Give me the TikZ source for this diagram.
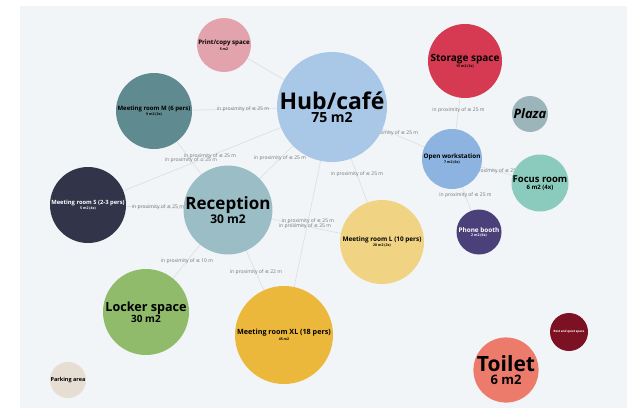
\documentclass[tikz,border=0pt]{standalone}
\usepackage{fontspec}
\setmainfont{Open Sans}
\newfontfamily\symfont{DejaVu Sans}

\definecolor{paper}{HTML}{F1F5F7}
\definecolor{linkgray}{HTML}{DCE1E3}
\definecolor{printpink}{HTML}{E3A3AD}
\definecolor{mtgMteal}{HTML}{5F8A8F}
\definecolor{hubblue}{HTML}{A9C7E6}
\definecolor{storagered}{HTML}{D53A52}
\definecolor{plazagray}{HTML}{9CB5BB}
\definecolor{openwsblue}{HTML}{8DB3E0}
\definecolor{focusgreen}{HTML}{8ACBBD}
\definecolor{recepteal}{HTML}{9ABDC6}
\definecolor{mtgSnavy}{HTML}{32344A}
\definecolor{lockergreen}{HTML}{8FBB6B}
\definecolor{mtgXLyellow}{HTML}{ECB83C}
\definecolor{parkingbeige}{HTML}{E6DDD3}
\definecolor{mtgLyellow}{HTML}{F0D484}
\definecolor{phonepurple}{HTML}{4B4079}
\definecolor{restred}{HTML}{7B1122}
\definecolor{toiletred}{HTML}{ED7B6B}

\newcommand{\fs}[1]{\fontsize{#1}{#1}\selectfont}
\newcommand{\sub}[1]{\\[0.5pt]\fontsize{3.5}{3.5}\selectfont #1}

\pgfdeclarelayer{paperlayer}
\pgfdeclarelayer{linklayer}
\pgfsetlayers{paperlayer,linklayer,main}

\tikzset{
  room/.style={circle, minimum size=#1, inner sep=0pt, align=center,
               font=\bfseries\fontsize{1}{1}\selectfont},
  link/.style={draw=linkgray, line width=0.7pt},
  lbl/.style={font=\fontsize{5}{5}\selectfont, text=black!55, inner sep=0pt}
}

\begin{document}
\begin{tikzpicture}[x=1pt, y=-1pt]
    \useasboundingbox (0,0) rectangle (627,408);
    % draw the light background
    \begin{pgfonlayer}{paperlayer}
    \fill[paper] (20,6) rectangle (627,408);
    \end{pgfonlayer}
    % draw nodes for the rooms
    \node[room=54pt, fill=printpink] (print) at (224,45) {\fs{6.2}Print/copy space\sub{5 m2}};
    \node[room=76pt, fill=mtgMteal] (mtgM) at (154,111) {\fs{6}Meeting room M (6 pers)\sub{9 m2 (3x)}};
    \node[room=110pt, fill=hubblue] (hub) at (332,107) {\fs{23}Hub/café\\[2pt]\fs{14}75 m2};
    \node[room=74pt, fill=storagered] (storage) at (465,61) {\fs{10}Storage space\sub{15 m2 (3x)}};
    \node[room=36pt, fill=plazagray] (plaza) at (530,114) {\fs{13}\itshape Plaza};
    \node[room=60pt, fill=openwsblue] (openws) at (452,159) {\fs{6.3}Open workstation\sub{7 m2 (6x)}};
    \node[room=57pt, fill=focusgreen] (focus) at (540,183) {\fs{9.5}Focus room\\[2pt]\fs{6}6 m2 (4x)};
    \node[room=88pt, fill=recepteal] (recep) at (228,210) {\fs{17}Reception\\\fs{12}30 m2};
    \node[room=76pt, fill=mtgSnavy, text=white] (mtgS) at (88,205) {\fs{5.8}Meeting room S (2-3 pers)\sub{5 m2 (4x)}};
    \node[room=86pt, fill=lockergreen] (locker) at (146,312) {\fs{12.6}Locker space\\\fs{10}30 m2};
    \node[room=98pt, fill=mtgXLyellow] (mtgXL) at (284,335) {\fs{7.2}Meeting room XL (18 pers)\sub{45 m2}};
    \node[room=36pt, fill=parkingbeige] (parking) at (68,380) {\fs{5.5}Parking area};
    \node[room=84pt, fill=mtgLyellow] (mtgL) at (382,242) {\fs{6.4}Meeting room L (10 pers)\sub{20 m2 (2x)}};
    \node[room=45pt, fill=phonepurple, text=white] (phone) at (479,232) {\fs{6.4}Phone booth\sub{2 m2 (6x)}};
    \node[room=38pt, fill=restred, text=white] (rest) at (569,332) {\fs{3}Rest and quiet space};
    \node[room=58pt, fill=toiletred] (toilet) at (506,370) {\fs{21}Toilet\\[3pt]\fs{13}6 m2};
    % draw the connections
    \begin{pgfonlayer}{linklayer}
    \draw[link] (print.center) -- (hub.center);
    \foreach \a/\b/\d in {mtgM/hub/25, mtgM/recep/25, mtgS/hub/25, recep/hub/25,
                          hub/openws/25, storage/openws/25, hub/mtgL/25, openws/focus/25,
                          openws/phone/25, mtgS/recep/25, recep/mtgL/25, hub/mtgXL/25,
                          recep/locker/10, recep/mtgXL/22}
    \draw[link] (\a.center) -- node[lbl] {in proximity of {\symfont ≤} \d\ m} (\b.center);
    \end{pgfonlayer}

\end{tikzpicture}
\end{document}
